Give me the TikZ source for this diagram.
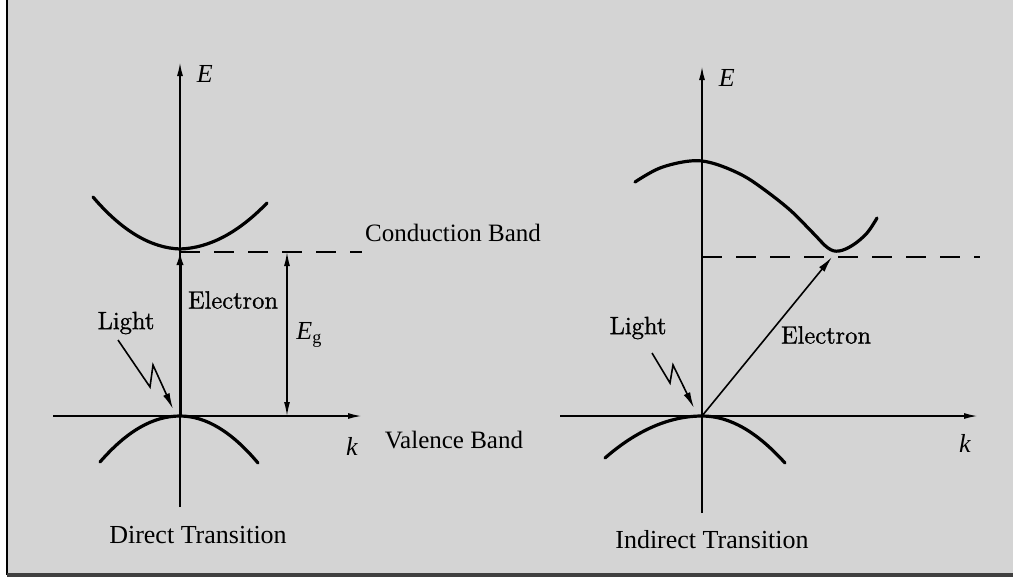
\documentclass[tikz,border=0pt]{standalone}
\usepackage{fontspec}
\setmainfont{Liberation Serif}
\newfontfamily\lmfont[FakeBold=1.2]{Latin Modern Roman}
\usetikzlibrary{arrows.meta}
\definecolor{paper}{RGB}{212,212,212}
\tikzset{
  axis/.style={line width=0.9pt, -{Latex[length=7pt,width=3pt]}},
  band/.style={line width=1.6pt, line cap=round},
  gapline/.style={line width=1.2pt, dash pattern=on 10pt off 7pt},
  lbl/.style={font=\fontsize{12.5pt}{14pt}\selectfont, inner sep=0pt},
  tag/.style={font=\lmfont\fontsize{12.5pt}{14pt}\selectfont, inner sep=0pt},
  var/.style={font=\itshape\fontsize{13pt}{15pt}\selectfont, inner sep=0pt}
}
\begin{document}
\begin{tikzpicture}[x=0.5pt, y=-0.5pt]

    % Frame
    \useasboundingbox (0,0) rectangle (1013,579);
    \fill[white] (0,0) rectangle (1013,579);
    \fill[paper] (7,-5) rectangle (1020,575);
    \draw[line width=1pt] (7,-5) -- (7,575);
    \draw[line width=1.6pt, black!75] (7,575) -- (1020,575);

    % ---------- Direct transition ----------
    \coordinate (dO) at (180,416);
    \coordinate (dEtop) at (180,62);
    \coordinate (dEbot) at (180,507);
    \coordinate (dkL) at (53,416);
    \coordinate (dkR) at (362,416);
    \coordinate (dC) at (180,249);
    \coordinate (dDash) at (362,252);
    \coordinate (egTop) at (287,252);
    \coordinate (egBot) at (287,416);

    % Axes
    \draw[axis] (dEbot) -- (dEtop) node[var, anchor=west, xshift=8pt, yshift=-6pt] (dE) {E};
    \draw[axis] (dkL) -- (dkR);
    \node[var] (dk) at (352,446) {k};

    % Bands
    \draw[band] (93,197) .. controls (122,231) and (151,248) .. (dC)
                .. controls (209,248) and (238,233) .. (267,203);
    \draw[band] (100,462) .. controls (127,431) and (153,416) .. (dO)
                .. controls (206,416) and (232,432) .. (258,463);

    % Gap
    \draw[gapline] (dC |- dDash) -- (dDash);
    \draw[line width=1.5pt, -{Latex[length=8pt,width=3.5pt]}] (dO) -- (dC);
    \draw[line width=0.7pt, {Latex[length=7pt,width=3pt]}-{Latex[length=7pt,width=3pt]}] (egTop) -- (egBot);
    \node[var, anchor=west] (dEg) at (296,335) {E\textsubscript{\upshape g}};

    % Light
    \node[tag] (dLight) at (126,323) {Light};
    \node[tag] (dElec) at (233,300) {Electron};
    \draw[line width=0.8pt, -{Latex[length=8pt,width=3.5pt]}] (118,340) -- (150,387) -- (153,365) -- (173,409);

    \node[lbl, font=\fontsize{13pt}{15pt}\selectfont] (dTitle) at (198,535) {Direct Transition};

    % ---------- Band labels ----------
    \node[lbl] (cb) at (453,233) {Conduction Band};
    \node[lbl] (vb) at (454,440) {Valence Band};

    % ---------- Indirect transition ----------
    \coordinate (iO) at (702,416);
    \coordinate (iEtop) at (702,66);
    \coordinate (iEbot) at (702,513);
    \coordinate (ikL) at (560,416);
    \coordinate (ikR) at (978,416);
    \coordinate (iC) at (832,257);
    \coordinate (iDash) at (980,257);

    % Axes
    \draw[axis] (iEbot) -- (iEtop) node[var, anchor=west, xshift=8pt, yshift=-6pt] (iE) {E};
    \draw[axis] (ikL) -- (ikR);
    \node[var] (ik) at (965,443) {k};

    % Bands
    \draw[band] plot[smooth, tension=0.6] coordinates {(635,182) (660,168) (690,161) (712,163) (740,174) (762,188) (790,210) (813,233) (828,248) (839,251) (853,245) (867,233) (877,218)};
    \draw[band] (605,458) .. controls (637,430) and (670,416) .. (iO)
                .. controls (730,416) and (757,432) .. (785,463);

    % Gap
    \draw[gapline] (iO |- iDash) -- (iDash);
    \draw[line width=0.8pt, -{Latex[length=8pt,width=3.5pt]}] (iO) -- (iC);

    % Light
    \node[tag] (iLight) at (638,328) {Light};
    \node[tag] (iElec) at (826,335) {Electron};
    \draw[line width=0.8pt, -{Latex[length=8pt,width=3.5pt]}] (652,353) -- (670,383) -- (673,365) -- (694,408);

    \node[lbl, font=\fontsize{13pt}{15pt}\selectfont] (iTitle) at (712,540) {Indirect Transition};

\end{tikzpicture}
\end{document}
